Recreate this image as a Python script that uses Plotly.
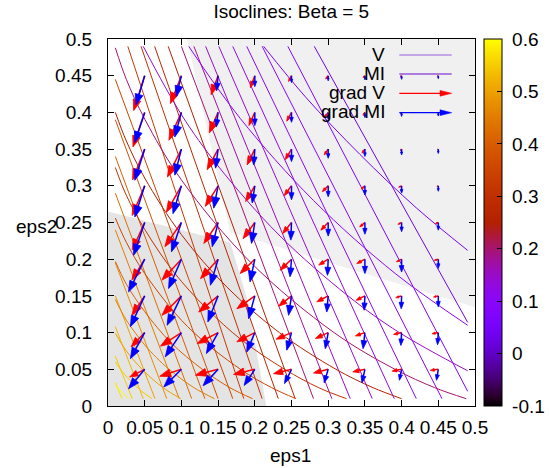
import math
import plotly.graph_objects as go

# ---------------- data ----------------
x_ticks = [0, 0.05, 0.1, 0.15, 0.2, 0.25, 0.3, 0.35, 0.4, 0.45, 0.5]
x_tick_text = ["0", "0.05", "0.1", "0.15", "0.2", "0.25", "0.3", "0.35", "0.4", "0.45", "0.5"]
cb_ticks = [-0.1, 0, 0.1, 0.2, 0.3, 0.4, 0.5, 0.6]
cb_tick_text = ["-0.1", "0", "0.1", "0.2", "0.3", "0.4", "0.5", "0.6"]
cb_min, cb_max = -0.1, 0.6

# shaded regions (boundaries)
light_region_x = [0.1076, 0.5, 0.5, 0.1666]
light_region_y = [0.5, 0.5, 0.1345, 0.2366]
dark_region_x = [0.0, 0.1666, 0.19, 0.2157, 0.0]
dark_region_y = [0.265, 0.2228, 0.144, 0.0, 0.0]

# MI isoclines (level, points)
mi_levels = [0.6, 0.55, 0.5, 0.45, 0.4, 0.35, 0.3, 0.25, 0.2, 0.15, 0.1, 0.05]
mi_x = [
    [0.01, 0.0188, 0.028],
    [0.01, 0.02, 0.0325, 0.046, 0.06],
    [0.01, 0.025, 0.0482, 0.075, 0.099],
    [0.01, 0.025, 0.05, 0.066, 0.0833, 0.117, 0.145],
    [0.01, 0.025, 0.05, 0.086, 0.1286, 0.166, 0.197],
    [0.01, 0.025, 0.05, 0.1083, 0.1805, 0.223, 0.256],
    [0.01, 0.025, 0.05, 0.09, 0.1336, 0.182, 0.2407, 0.287, 0.325],
    [0.01, 0.025, 0.05, 0.1, 0.162, 0.2335, 0.3106, 0.361, 0.40],
    [0.01, 0.025, 0.05, 0.1, 0.195, 0.308, 0.391, 0.445, 0.488],
    [0.048, 0.1, 0.15, 0.233, 0.327, 0.397, 0.49],
    [0.11, 0.18, 0.28, 0.392, 0.49],
    [0.212, 0.27, 0.343, 0.42, 0.49],
]
mi_y = [
    [0.028, 0.0188, 0.01],
    [0.06, 0.046, 0.0325, 0.02, 0.01],
    [0.099, 0.075, 0.0482, 0.025, 0.01],
    [0.145, 0.117, 0.0833, 0.066, 0.05, 0.025, 0.01],
    [0.197, 0.166, 0.1286, 0.086, 0.05, 0.025, 0.01],
    [0.256, 0.223, 0.1805, 0.1083, 0.05, 0.025, 0.01],
    [0.325, 0.287, 0.2407, 0.182, 0.1336, 0.09, 0.05, 0.025, 0.01],
    [0.40, 0.361, 0.3106, 0.2335, 0.162, 0.1, 0.05, 0.025, 0.01],
    [0.488, 0.445, 0.391, 0.308, 0.195, 0.1, 0.05, 0.025, 0.01],
    [0.49, 0.397, 0.327, 0.233, 0.15, 0.1, 0.048],
    [0.49, 0.392, 0.28, 0.18, 0.11],
    [0.49, 0.42, 0.343, 0.27, 0.212],
]

# V isoclines (level, start point, end point)
v_levels = [0.03, 0.07, 0.09, 0.105, 0.12, 0.135, 0.15, 0.175, 0.2, 0.25, 0.275, 0.3,
            0.325, 0.35, 0.375, 0.4, 0.425, 0.45, 0.475, 0.5, 0.525, 0.55, 0.575]
v_start_x = [0.281, 0.245, 0.210, 0.189, 0.170, 0.151, 0.133, 0.117, 0.100, 0.082, 0.0635, 0.045,
             0.027, 0.01, 0.01, 0.01, 0.01, 0.01, 0.01, 0.01, 0.01, 0.01, 0.01]
v_start_y = [0.49, 0.49, 0.49, 0.49, 0.49, 0.49, 0.49, 0.49, 0.49, 0.49, 0.49, 0.49,
             0.49, 0.445, 0.39, 0.34, 0.29, 0.24, 0.195, 0.15, 0.108, 0.068, 0.032]
v_end_x = [0.49, 0.49, 0.455, 0.42, 0.39, 0.36, 0.33, 0.305, 0.28, 0.255, 0.232, 0.21,
           0.185, 0.17, 0.15, 0.132, 0.114, 0.097, 0.08, 0.064, 0.048, 0.033, 0.019]
v_end_y = [0.114, 0.02, 0.01, 0.01, 0.01, 0.01, 0.01, 0.01, 0.01, 0.01, 0.01, 0.01,
           0.01, 0.01, 0.01, 0.01, 0.01, 0.01, 0.01, 0.01, 0.01, 0.01, 0.01]

# gradient arrows on a grid; rows run from eps2 = 0.45 (top) down to 0.05
grid_eps1 = [0.05, 0.10, 0.15, 0.20, 0.25, 0.30, 0.35, 0.40, 0.45]
grid_eps2 = [0.45, 0.40, 0.35, 0.30, 0.25, 0.20, 0.15, 0.10, 0.05]
# arrow components in units of 1e-3
gradV_dx = [
    [-15, -15, -9.5, -6, -4, -3.5, -2.5, -2, -1.5],
    [-16, -17, -12, -8, -6.5, -5, -2.5, -2, -1.5],
    [-16.5, -19, -15, -10.5, -8.5, -5.5, -4, -2, -1],
    [-17, -20.5, -17.5, -12.5, -10, -8, -5, -4, -2],
    [-17, -22.5, -19.5, -16, -12, -10, -7, -5, -4],
    [-17.5, -26.5, -24, -20, -15.5, -13, -11, -7, -5.5],
    [-17.5, -26.5, -26.5, -24.5, -17.5, -15.5, -12, -8, -6.5],
    [-18.5, -28.5, -28.5, -24.5, -21, -17.5, -13, -11, -8.5],
    [-20.5, -29.5, -31, -29, -24.5, -20, -16.5, -13, -11],
]
gradV_dy = [
    [-47.5, -38, -26, -16.5, -8, -4.5, -2.5, -1.5, -0.5],
    [-47, -38, -28, -18, -12, -7, -4, -1.5, -0.5],
    [-42, -38, -28, -21.5, -14.5, -8, -5.5, -2, -1],
    [-40.5, -36, -28, -21.5, -13.5, -8, -4.5, -2, -1],
    [-37.5, -33, -28.5, -22, -15, -10.5, -6, -2.5, -1.5],
    [-28.5, -28.5, -26.5, -19.5, -15, -8, -6, -3.5, -1.5],
    [-26.5, -26.5, -22, -17.5, -14, -8, -6, -2.5, -1.5],
    [-19.5, -18.5, -15, -12.5, -9, -8, -4.5, -2.5, -1.5],
    [-10.5, -9.5, -8, -7, -6, -5, -3.5, -2.5, -1.5],
]
gradMI_dx = [
    [-12, -7, -2, 0, 0, 0, 0, 0, 0],
    [-13.5, -9, -2.5, 0, 0, 0, 0, 0, 0],
    [-13.5, -9, -3.5, -1.5, 0, 0, 0, 0, 0],
    [-13.5, -11.5, -6, -3.5, 0, 0, 0, 0, 0],
    [-15, -13.5, -8, -4.5, -1, 0, 0, 0, 0],
    [-22, -17.5, -10.5, -6.5, -2, -1, 0, 0, 0],
    [-19.5, -19.5, -14, -8.5, -4, -2, -1, -0.5, 0],
    [-19.5, -22, -16, -11, -6.5, -4, -2.5, -1, -1],
    [-22, -24, -20.5, -14.5, -9.5, -5.5, -4, -3, -2.5],
]
gradMI_dy = [
    [-40, -28.5, -20.5, -15, -9.5, -7, -5.5, -5, -4],
    [-41, -33.5, -20, -18, -13.5, -9.5, -7, -5.5, -5],
    [-42.5, -35.5, -26, -21.5, -17, -12.5, -10, -8, -6],
    [-42.5, -38, -30.5, -23.5, -19, -15, -12.5, -10, -7.5],
    [-44.5, -40, -33, -28.5, -24, -18.5, -16, -12.5, -10.5],
    [-44.5, -40, -35.5, -31, -24, -22, -19.5, -17.5, -12.5],
    [-42, -40, -35.5, -31, -26.5, -22, -19.5, -17.5, -15],
    [-35.5, -33, -28.5, -26.5, -24, -22, -22, -17.5, -16.5],
    [-26.5, -24, -22.5, -22, -19.5, -18.5, -18.5, -15, -15],
]
ARROW_UNIT = 1e-3

legend_labels = ["V", "MI", "grad V", "grad MI"]

# ---------------- styling ----------------
FONT = "Liberation Sans, Arial, Helvetica, sans-serif"
FS = 19
W, H = 549, 468
L, T = 108, 39
PW, PH = 367, 367
R, B = W - L - PW, H - T - PH
CB_X0 = 484  # colorbar left edge (px)
CB_TH = 18


def palette(v):
    t = (v - cb_min) / (cb_max - cb_min)
    t = min(1.0, max(0.0, t))
    r = math.sqrt(t)
    g = t ** 3
    b = max(0.0, math.sin(2 * math.pi * t))
    return "rgb(%d,%d,%d)" % (round(255 * r), round(255 * g), round(255 * b))


colorscale = []
for i in range(41):
    t = i / 40
    colorscale.append([t, palette(cb_min + t * (cb_max - cb_min))])

fig = go.Figure()

# shaded regions
fig.add_trace(go.Scatter(x=light_region_x, y=light_region_y, fill="toself", mode="lines",
                         line=dict(width=0), fillcolor="rgb(240,240,240)",
                         hoverinfo="skip", showlegend=False))
fig.add_trace(go.Scatter(x=dark_region_x, y=dark_region_y, fill="toself", mode="lines",
                         line=dict(width=0), fillcolor="rgb(228,228,228)",
                         hoverinfo="skip", showlegend=False))

# V isoclines
for lev, x0, y0, x1, y1 in zip(v_levels, v_start_x, v_start_y, v_end_x, v_end_y):
    fig.add_trace(go.Scatter(x=[x0, x1], y=[y0, y1], mode="lines",
                             line=dict(color=palette(lev), width=1),
                             hoverinfo="skip", showlegend=False))

# MI isoclines
for lev, xs, ys in zip(mi_levels, mi_x, mi_y):
    fig.add_trace(go.Scatter(x=xs, y=ys, mode="lines",
                             line=dict(color=palette(lev), width=1, shape="spline", smoothing=1.0),
                             hoverinfo="skip", showlegend=False))

# arrows
PX = 0.5 / PW  # one screen pixel in data units (axes are isotropic)


def arrow_traces(dxs, dys, color):
    sx, sy, hx, hy = [], [], [], []
    for j, gy in enumerate(grid_eps2):
        for i, gx in enumerate(grid_eps1):
            dx = dxs[j][i] * ARROW_UNIT
            dy = dys[j][i] * ARROW_UNIT
            ln = math.hypot(dx, dy)
            if ln == 0:
                continue
            ux, uy = dx / ln, dy / ln
            hl = min(11 * PX, 0.5 * ln)
            hw = 0.36 * hl
            tx, ty = gx + dx, gy + dy
            bx, by = tx - ux * hl, ty - uy * hl
            sx += [gx, bx + ux * hl * 0.3, None]
            sy += [gy, by + uy * hl * 0.3, None]
            hx += [tx, bx - uy * hw, bx + uy * hw, tx, None]
            hy += [ty, by + ux * hw, by - ux * hw, ty, None]
    fig.add_trace(go.Scatter(x=sx, y=sy, mode="lines", line=dict(color=color, width=1.5),
                             hoverinfo="skip", showlegend=False))
    fig.add_trace(go.Scatter(x=hx, y=hy, mode="lines", fill="toself", fillcolor=color,
                             line=dict(color=color, width=0.8),
                             hoverinfo="skip", showlegend=False))


arrow_traces(gradV_dx, gradV_dy, "rgb(255,0,0)")
arrow_traces(gradMI_dx, gradMI_dy, "rgb(0,0,255)")

# colorbar carrier
fig.add_trace(go.Scatter(
    x=[None], y=[None], mode="markers", hoverinfo="skip", showlegend=False,
    marker=dict(color=[0], colorscale=colorscale, cmin=cb_min, cmax=cb_max, showscale=True,
                colorbar=dict(x=(CB_X0 - L) / PW, xanchor="left", xref="paper",
                              y=0.5, yanchor="middle", len=1.0, lenmode="fraction",
                              thickness=CB_TH, thicknessmode="pixels",
                              outlinewidth=1, outlinecolor="black",
                              tickmode="array", tickvals=cb_ticks,
                              ticktext=["\u00a0" + s for s in cb_tick_text],
                              ticks="inside", ticklen=5, tickcolor="black",
                              tickfont=dict(family=FONT, size=FS, color="black"),
                              xpad=0, ypad=0)),
))

axis_common = dict(range=[0, 0.5], tickmode="array", tickvals=x_ticks, ticktext=x_tick_text,
                   showgrid=False, zeroline=False, showline=True, linecolor="black",
                   linewidth=1.2, mirror="allticks", ticks="inside", ticklen=6,
                   tickcolor="black", tickwidth=1,
                   tickfont=dict(family=FONT, size=FS, color="black"))
fig.update_xaxes(**axis_common, ticklabelstandoff=4)
fig.update_yaxes(**axis_common, ticklabelstandoff=11)


# legend (gnuplot style: right-aligned text, sample to the right)
def py2paper(py):
    return (T + PH - py) / PH


def px2paper(px):
    return (px - L) / PW


rows_py = [55, 74, 93.3, 112.7]
annotations = []
shapes = []
sample_x0, sample_x1 = px2paper(399.3), px2paper(451.7)
sample_colors = ["rgb(150,95,225)", "rgb(105,10,205)", "rgb(255,0,0)", "rgb(0,0,255)"]
for k, (lab, py) in enumerate(zip(legend_labels, rows_py)):
    annotations.append(dict(text=lab, x=px2paper(387), y=py2paper(py - 1), xref="paper",
                            yref="paper", xanchor="right", yanchor="middle", showarrow=False,
                            font=dict(family=FONT, size=FS, color="black")))
    yp = py2paper(py)
    if k < 2:
        shapes.append(dict(type="line", xref="paper", yref="paper", x0=sample_x0, x1=sample_x1,
                           y0=yp, y1=yp, line=dict(color=sample_colors[k], width=1.2)))
    else:
        hl = 11.7 / PW
        hw = 2.9 / PH
        shapes.append(dict(type="line", xref="paper", yref="paper", x0=sample_x0,
                           x1=sample_x1 - hl * 0.8, y0=yp, y1=yp,
                           line=dict(color=sample_colors[k], width=1.3)))
        path = "M %f,%f L %f,%f L %f,%f Z" % (sample_x1, yp, sample_x1 - hl, yp + hw,
                                              sample_x1 - hl, yp - hw)
        shapes.append(dict(type="path", xref="paper", yref="paper", path=path,
                           fillcolor=sample_colors[k], line=dict(color=sample_colors[k], width=0.5)))

# mirrored tick marks on the left side of the colour box (gnuplot style)
for v in cb_ticks[1:-1]:
    yp = (v - cb_min) / (cb_max - cb_min)
    shapes.append(dict(type="line", xref="paper", yref="paper",
                       x0=px2paper(CB_X0), x1=px2paper(CB_X0 + 5), y0=yp, y1=yp,
                       line=dict(color="black", width=1)))

# axis labels (gnuplot puts the y label horizontally)
annotations.append(dict(text="eps1", x=px2paper(290.7), y=py2paper(455), xref="paper",
                        yref="paper", xanchor="center", yanchor="middle", showarrow=False,
                        font=dict(family=FONT, size=FS, color="black")))
annotations.append(dict(text="eps2", x=px2paper(36.5), y=py2paper(226), xref="paper",
                        yref="paper", xanchor="center", yanchor="middle", showarrow=False,
                        font=dict(family=FONT, size=FS, color="black")))

fig.update_layout(
    width=W, height=H,
    margin=dict(l=L, r=R, t=T, b=B, autoexpand=False),
    paper_bgcolor="white", plot_bgcolor="white",
    title=dict(text="Isoclines: Beta = 5", x=291.3 / W, xanchor="center",
               y=1 - 11 / H, yanchor="middle",
               font=dict(family=FONT, size=FS, color="black")),
    annotations=annotations, shapes=shapes,
    showlegend=False,
)

fig.write_html("out.html", config={"displayModeBar": False},
               post_script="document.body.style.margin='0';")
